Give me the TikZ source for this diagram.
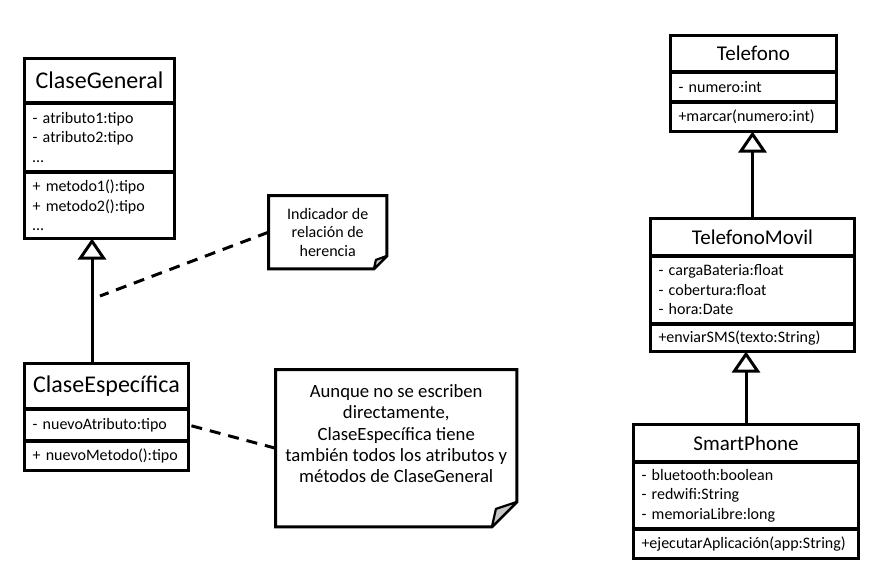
\documentclass[tikz,border=0pt]{standalone}
\usepackage{fontspec}
\setmainfont{Carlito}
\usetikzlibrary{positioning,arrows.meta}

\tikzset{
  titulo/.style={draw, line width=3.3pt, outer sep=0pt, inner xsep=8pt, align=center,
    font=\fontsize{#1}{#1}\selectfont},
  titulo/.default=21,
  miembros/.style={draw, line width=3.3pt, outer sep=0pt, inner xsep=8pt, align=left,
    font=\fontsize{16}{19.5}\selectfont},
  herencia/.style={line width=3pt, -{Triangle[open, width=28pt, length=21pt]}},
  enlace/.style={line width=3pt, dash pattern=on 11pt off 8pt},
  nota/.style={inner sep=0pt, align=center},
  borde/.style={line width=3pt, line join=miter},
  doblez/.style={line width=2.2pt, fill=gray!45, line join=round}
}

\begin{document}
\begin{tikzpicture}[x=1pt, y=-1pt]
\useasboundingbox (0,0) rectangle (893,573);

% ClaseGeneral y ClaseEspecifica
\node (general-titulo) [titulo=24, anchor=north west, text width=134pt, minimum height=44.5pt] at (24.5,58.5) {ClaseGeneral};
\node (general-atributos) [miembros, below=0pt of general-titulo, text width=134pt, minimum height=69pt] {- atributo1:tipo\\- atributo2:tipo\\…};
\node (general-metodos) [miembros, below=0pt of general-atributos, text width=134pt, minimum height=66.5pt] {+ metodo1():tipo\\+ metodo2():tipo\\…};

\node (especifica-titulo) [titulo=24, anchor=north west, text width=148pt, minimum height=45.5pt] at (24.5,363.5) {ClaseEspecífica};
\node (especifica-atributos) [miembros, below=0pt of especifica-titulo, text width=148pt, minimum height=32pt] {- nuevoAtributo:tipo};
\node (especifica-metodos) [miembros, below=0pt of especifica-atributos, text width=148pt, minimum height=29.5pt] {+ nuevoMetodo():tipo};

\draw[herencia] ([xshift=-14.5pt]especifica-titulo.north) -- ([xshift=-14.5pt]especifica-titulo.north |- general-metodos.south);

% notas
\node (nota-indicador) [nota, anchor=north west, minimum width=118pt, minimum height=73pt, font=\fontsize{16}{18.7}\selectfont] at (268.5,195.5) {Indicador de\\relación de\\herencia};
\draw[borde] (nota-indicador.north west) -- (nota-indicador.north east) -- ([yshift=13pt]nota-indicador.south east) -- ([xshift=-13pt]nota-indicador.south east) -- (nota-indicador.south west) -- cycle;
\filldraw[doblez] ([yshift=13pt]nota-indicador.south east) -- ([xshift=-11pt,yshift=9pt]nota-indicador.south east) -- ([xshift=-13pt]nota-indicador.south east) -- cycle;

\node (nota-atributos) [nota, anchor=north west, minimum width=241pt, minimum height=157pt, font=\fontsize{18.7}{21.3}\selectfont] at (275.5,369.5) {\parbox[c][127pt][t]{225pt}{\centering Aunque no se escriben\\directamente,\\ClaseEspecífica tiene\\también todos los atributos y\\métodos de ClaseGeneral}};
\draw[borde] (nota-atributos.north west) -- (nota-atributos.north east) -- ([yshift=25pt]nota-atributos.south east) -- ([xshift=-25pt]nota-atributos.south east) -- (nota-atributos.south west) -- cycle;
\filldraw[doblez] ([yshift=25pt]nota-atributos.south east) -- ([xshift=-21pt,yshift=18pt]nota-atributos.south east) -- ([xshift=-25pt]nota-atributos.south east) -- cycle;

\coordinate (punto-herencia) at (100,296);
\draw[enlace] (nota-indicador.west) -- (punto-herencia);
\draw[enlace] (nota-atributos.west) -- (especifica-atributos.east);

% Telefono, TelefonoMovil, SmartPhone
\node (telefono-titulo) [titulo, anchor=north west, text width=150pt, minimum height=36.5pt] at (670.5,35.5) {Telefono};
\node (telefono-atributos) [miembros, below=0pt of telefono-titulo, text width=150pt, minimum height=30pt] {- numero:int};
\node (telefono-metodos) [miembros, below=0pt of telefono-atributos, text width=150pt, minimum height=29.5pt] {+marcar(numero:int)};

\node (movil-titulo) [titulo, anchor=north west, text width=188pt, minimum height=37.5pt] at (650.5,218.5) {TelefonoMovil};
\node (movil-atributos) [miembros, below=0pt of movil-titulo, text width=188pt, minimum height=68pt] {- cargaBateria:float\\- cobertura:float\\- hora:Date};
\node (movil-metodos) [miembros, below=0pt of movil-atributos, text width=188pt, minimum height=27.5pt] {+enviarSMS(texto:String)};

\node (smart-titulo) [titulo, anchor=north west, text width=209pt, minimum height=37.5pt] at (633.5,424.5) {SmartPhone};
\node (smart-atributos) [miembros, below=0pt of smart-titulo, text width=209pt, minimum height=67pt] {- bluetooth:boolean\\- redwifi:String\\- memoriaLibre:long};
\node (smart-metodos) [miembros, below=0pt of smart-atributos, text width=209pt, minimum height=29.5pt] {+ejecutarAplicación(app:String)};

\draw[herencia] (movil-titulo.north) -- (movil-titulo.north |- telefono-metodos.south);
\draw[herencia] (smart-titulo.north) -- (smart-titulo.north |- movil-metodos.south);
\end{tikzpicture}
\end{document}
